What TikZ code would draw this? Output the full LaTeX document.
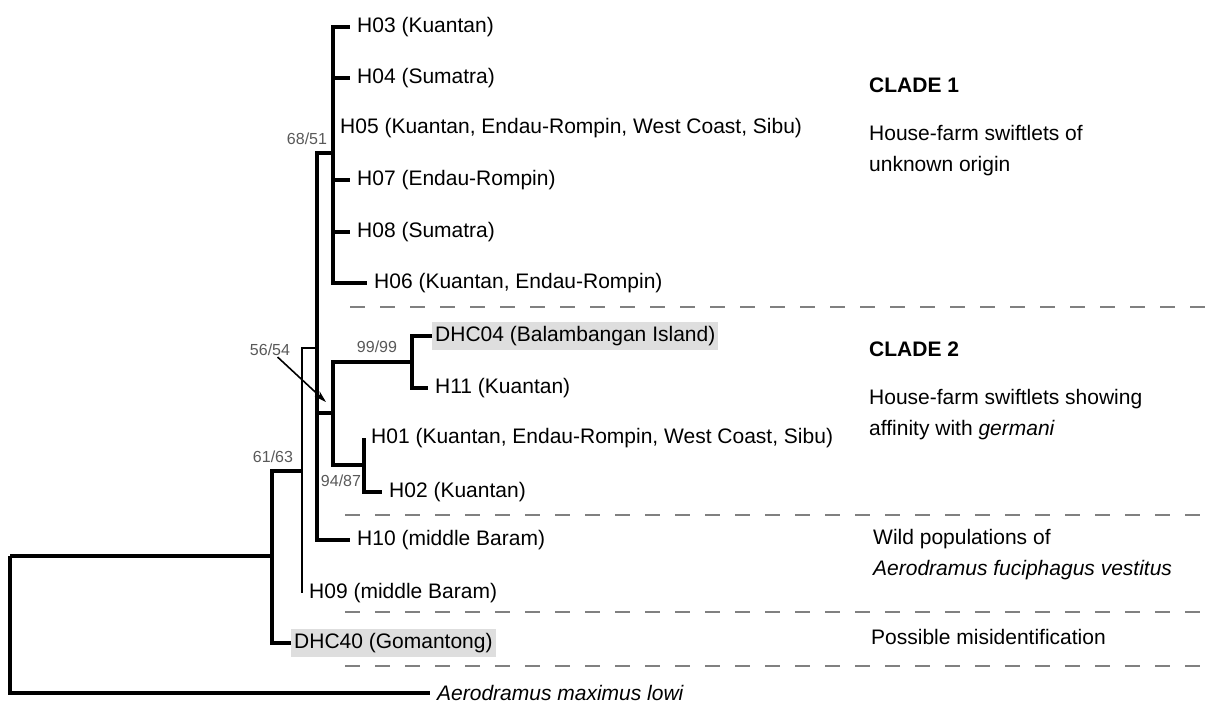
\documentclass[tikz,border=0pt]{standalone}
\usepackage{fontspec}
\setmainfont{Liberation Sans}
\usetikzlibrary{arrows.meta}
\definecolor{boxgray}{gray}{0.87}
\definecolor{supgray}{gray}{0.35}
\definecolor{sepgray}{gray}{0.5}
\tikzset{
  branch/.style={line width=3.2pt},
  thinbranch/.style={line width=1.8pt},
  leaf/.style={anchor=west, inner xsep=7pt, inner ysep=2pt, font=\fontsize{21}{25}\selectfont},
  shaded/.style={leaf, fill=boxgray, inner xsep=3pt, inner ysep=4pt},
  support/.style={text=supgray, inner sep=1pt, font=\fontsize{16}{18}\selectfont},
  divider/.style={sepgray, line width=2.6pt, dash pattern=on 15pt off 15pt},
  note/.style={anchor=west, align=left, inner xsep=0pt, font=\fontsize{21}{31}\selectfont},
}
\begin{document}
\begin{tikzpicture}[x=1pt,y=-1pt]
\useasboundingbox (0,0) rectangle (1210,705);

% inner nodes of the tree
\coordinate (root) at (10,556);
\coordinate (n1) at (272,556);
\coordinate (n2) at (302,471);
\coordinate (n3) at (317,348);
\coordinate (n4) at (333,153);
\coordinate (n5) at (333,413);
\coordinate (n6) at (412,362);
\coordinate (n7) at (364,465);

% haplotypes
\node[leaf] (h03) at (350,27) {H03 (Kuantan)};
\node[leaf] (h04) at (350,78) {H04 (Sumatra)};
\node[leaf] (h05) at (333,128) {H05 (Kuantan, Endau-Rompin, West Coast, Sibu)};
\node[leaf] (h07) at (350,180) {H07 (Endau-Rompin)};
\node[leaf] (h08) at (350,232) {H08 (Sumatra)};
\node[leaf] (h06) at (367,283) {H06 (Kuantan, Endau-Rompin)};
\node[shaded] (dhc04) at (432,336) {DHC04 (Balambangan Island)};
\node[leaf] (h11) at (428,388) {H11 (Kuantan)};
\node[leaf] (h01) at (364,438) {H01 (Kuantan, Endau-Rompin, West Coast, Sibu)};
\node[leaf] (h02) at (382,492) {H02 (Kuantan)};
\node[leaf] (h10) at (350,540) {H10 (middle Baram)};
\node[leaf] (h09) at (302,593) {H09 (middle Baram)};
\node[shaded] (dhc40) at (291,643) {DHC40 (Gomantong)};
\node[leaf,font=\fontsize{21}{25}\selectfont\itshape] (lowi) at (430,693) {Aerodramus maximus lowi};

% branches
\draw[branch] (root) |- (n1);
\draw[branch] (root) |- (lowi.west);
\draw[branch] (n1) |- (n2);
\draw[branch] (n1) |- (dhc40.west);
\draw[thinbranch] (n2) |- (n3);
\draw[thinbranch] (n2) |- (h09.west);
\draw[branch] (n3) |- (n4);
\draw[branch] (n3) |- (n5);
\draw[branch] (n3) |- (h10.west);
\draw[branch] (n4) |- (h03.west);
\draw[branch] (n4) |- (h04.west);
\draw[branch] (n4) |- (h05.west);
\draw[branch] (n4) |- (h07.west);
\draw[branch] (n4) |- (h08.west);
\draw[branch] (n4) |- (h06.west);
\draw[branch] (n5) |- (n6);
\draw[branch] (n5) |- (n7);
\draw[branch] (n6) |- (dhc04.west);
\draw[branch] (n6) |- (h11.west);
\draw[branch] (n7) |- (h01.west);
\draw[branch] (n7) |- (h02.west);

% bootstrap values
\node[support] (b6851) at (307,139) {68/51};
\node[support] (b5654) at (270,350) {56/54};
\node[support] (b6163) at (273,457) {61/63};
\node[support] (b9999) at (377,347) {99/99};
\node[support] (b9487) at (341,481) {94/87};
\coordinate (tip5654) at (326,402);
\draw[-{Stealth[length=12pt,width=7pt]}, line width=1.6pt] (b5654) -- (tip5654);

% group borders
\draw[divider] (350,307) -- (1210,307);
\draw[divider] (345,515) -- (1210,515);
\draw[divider] (345,612) -- (1210,612);
\draw[divider] (345,666) -- (1210,666);

% group notes
\node[note,font=\fontsize{21}{25}\selectfont\bfseries] (clade1) at (869,85) {CLADE 1};
\node[note] (desc1) at (869,151) {House-farm swiftlets of\\unknown origin};
\node[note,font=\fontsize{21}{25}\selectfont\bfseries] (clade2) at (869,349) {CLADE 2};
\node[note] (desc2) at (869,415) {House-farm swiftlets showing\\affinity with \textit{germani}};
\node[note] (desc3) at (873,555) {Wild populations of\\\textit{Aerodramus fuciphagus vestitus}};
\node[note] (desc4) at (871,637) {Possible misidentification};
\end{tikzpicture}
\end{document}
